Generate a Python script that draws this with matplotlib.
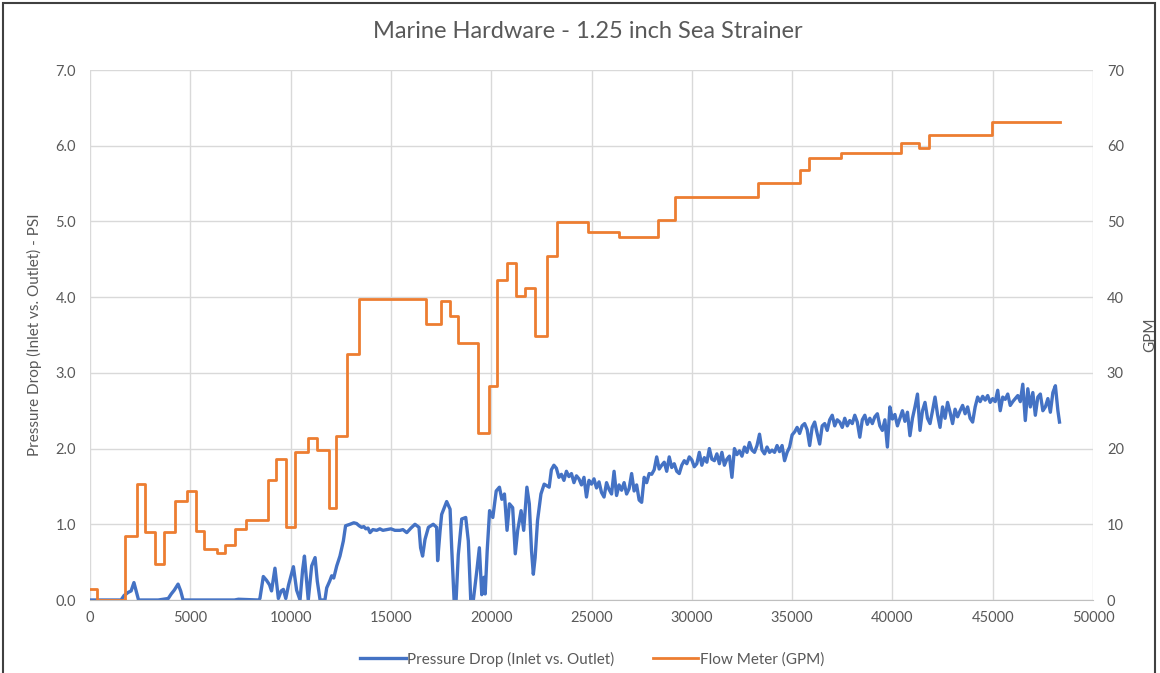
import numpy as np
import matplotlib.pyplot as plt
from matplotlib.patches import Rectangle

plt.rcParams['font.family'] = ['Lato', 'DejaVu Sans']

# flow meter steps: start of each step and its GPM value
flow_x = [0, 330, 1730, 2360, 2760, 3250, 3710, 4240, 4835, 5280, 5660, 6320,
          6720, 7210, 7755, 8880, 9290, 9780, 10240, 10850, 11320, 11900, 12250,
          12800, 13420, 16740, 17500, 17930, 18340, 19350, 19900, 20310, 20800,
          21260, 21680, 22180, 22800, 23290, 24840, 26380, 28330, 29160, 33280,
          35390, 35860, 37430, 40410, 41340, 41810, 44960, 48350]
flow_gpm = [1.5, 0, 8.4, 15.3, 9.0, 4.75, 9.0, 13.1, 14.4, 9.1, 6.8, 6.2,
            7.3, 9.4, 10.6, 15.8, 18.6, 9.6, 19.6, 21.35, 19.8, 12.1, 21.6,
            32.5, 39.75, 36.5, 39.55, 37.5, 34.0, 22.0, 28.3, 42.3, 44.5,
            40.1, 41.2, 34.9, 45.5, 49.9, 48.65, 47.9, 50.25, 53.2, 55.1,
            56.8, 58.4, 59.1, 60.3, 59.7, 61.45, 63.1, 63.1]

# pressure drop, start-up part (irregular readings)
dp_x_start = [0, 1550, 1700, 1900, 2050, 2190, 2300, 2420, 3000, 3400, 3900, 4050,
              4200, 4390, 4520, 4640, 7200, 7400, 8400, 8470, 8640, 8800, 8950, 9050,
              9220, 9390, 9530, 9640, 9760, 9900, 10000, 10140, 10300, 10470, 10600,
              10690, 10790, 10880, 11050, 11220, 11330, 11470, 11710, 11800, 11950,
              12050, 12150, 12300, 12460, 12630, 12740, 12960, 13150, 13290, 13420,
              13540, 13650, 13750, 13860, 13960, 14100, 14290, 14450, 14600, 14790,
              15000, 15200, 15450, 15600, 15790, 16000, 16200, 16400, 16480, 16580,
              16700, 16870, 17110, 17280, 17330, 17450, 17530, 17780, 17950, 18030,
              18150, 18250, 18360, 18530, 18730, 18860, 18980, 19110, 19280, 19410,
              19530, 19640, 19700, 19800, 19920, 20080, 20250, 20410, 20530, 20660,
              20790, 20910, 21070, 21200, 21320, 21490, 21620, 21780, 21900, 22010,
              22100, 22190, 22310, 22480, 22640, 22890]
dp_psi_start = [0, 0, 0.06, 0.10, 0.12, 0.23, 0.12, 0.0, 0.0, 0.0, 0.02, 0.08,
                0.13, 0.21, 0.12, 0.0, 0.0, 0.01, 0.0, 0.02, 0.31, 0.26, 0.20, 0.12,
                0.42, 0.02, 0.12, 0.14, 0.02, 0.20, 0.30, 0.44, 0.13, 0.0, 0.40,
                0.58, 0.28, 0.0, 0.45, 0.56, 0.25, 0.0, 0.0, 0.16, 0.25,
                0.32, 0.29, 0.45, 0.58, 0.78, 0.98, 1.0, 1.02, 1.01, 0.98,
                0.96, 0.97, 0.94, 0.95, 0.89, 0.93, 0.92, 0.94, 0.92, 0.93,
                0.94, 0.92, 0.92, 0.93, 0.89, 0.95, 1.0, 0.96, 0.69, 0.58,
                0.80, 0.96, 1.0, 0.96, 0.52, 0.91, 1.13, 1.30, 1.20, 0.69,
                0.0, 0.0, 0.60, 1.07, 1.09, 0.78, 0.0, 0.0, 0.38, 0.69,
                0.07, 0.30, 0.08, 0.65, 1.18, 1.09, 1.44, 1.49, 1.33, 1.40,
                0.92, 1.27, 1.22, 0.61, 0.92, 1.18, 0.92, 1.49, 1.27, 0.65,
                0.34, 0.56, 1.05, 1.40, 1.53, 1.49]

# pressure drop, steady part: one reading every 125 samples from 23000
dp_x_steady = list(range(23000, 48251, 125)) + [48330]
dp_psi_steady = [
    1.72, 1.78, 1.74, 1.62, 1.66, 1.58, 1.70, 1.63,
    1.67, 1.55, 1.64, 1.60, 1.52, 1.62, 1.36, 1.58,
    1.53, 1.60, 1.48, 1.56, 1.42, 1.36, 1.55, 1.46,
    1.40, 1.70, 1.38, 1.52, 1.45, 1.55, 1.40, 1.47,
    1.67, 1.44, 1.52, 1.32, 1.29, 1.62, 1.55, 1.67,
    1.66, 1.72, 1.89, 1.73, 1.78, 1.82, 1.70, 1.89,
    1.75, 1.80, 1.70, 1.67, 1.78, 1.84, 1.80, 1.89,
    1.85, 1.76, 1.80, 1.95, 1.78, 1.88, 1.82, 2.00,
    1.86, 1.84, 1.93, 1.80, 1.95, 1.78, 1.86, 1.90,
    1.62, 2.00, 1.92, 1.97, 1.90, 2.02, 1.95, 2.08,
    1.98, 1.95, 2.04, 2.19, 1.98, 1.93, 2.02, 1.95,
    1.98, 1.95, 2.04, 1.96, 2.04, 1.84, 1.95, 2.02,
    2.18, 2.22, 2.28, 2.20, 2.30, 2.33, 2.25, 2.04,
    2.28, 2.35, 2.20, 2.06, 2.30, 2.33, 2.24, 2.38,
    2.44, 2.30, 2.38, 2.35, 2.28, 2.40, 2.30, 2.37,
    2.33, 2.44, 2.35, 2.15, 2.38, 2.44, 2.32, 2.40,
    2.33, 2.42, 2.46, 2.30, 2.24, 2.38, 2.02, 2.55,
    2.39, 2.45, 2.30, 2.40, 2.50, 2.36, 2.48, 2.17,
    2.40, 2.55, 2.72, 2.24, 2.50, 2.61, 2.40, 2.33,
    2.50, 2.68, 2.45, 2.28, 2.55, 2.40, 2.61, 2.48,
    2.33, 2.52, 2.42, 2.50, 2.57, 2.46, 2.55, 2.40,
    2.35, 2.55, 2.68, 2.62, 2.69, 2.64, 2.70, 2.61,
    2.66, 2.62, 2.77, 2.50, 2.68, 2.65, 2.72, 2.57,
    2.62, 2.66, 2.70, 2.62, 2.85, 2.37, 2.79, 2.55,
    2.74, 2.44, 2.68, 2.72, 2.50, 2.55, 2.66, 2.48,
    2.74, 2.83, 2.50, 2.35]

dp_x = dp_x_start + dp_x_steady
dp_psi = dp_psi_start + dp_psi_steady

blue = '#4472C4'
orange = '#ED7D31'
grey_txt = '#595959'
grid_c = '#D9D9D9'

fig = plt.figure(figsize=(11.6, 6.73), dpi=100)
ax = fig.add_axes([90/1160, 73/673, 1003/1160, 530/673])
ax2 = ax.twinx()

l1, = ax.plot(dp_x, dp_psi, color=blue, lw=2.4, label='Pressure Drop (Inlet vs. Outlet)')
l2, = ax2.step(flow_x, flow_gpm, where='post', color=orange, lw=2.0, label='Flow Meter (GPM)')

ax.set_xlim(0, 50000)
ax.set_ylim(0, 7)
ax2.set_ylim(0, 70)
ax.set_xticks(np.arange(0, 50001, 5000))
ax.set_yticks(np.arange(0, 7.01, 1.0))
ax.set_yticklabels(['%.1f' % v for v in np.arange(0, 7.01, 1.0)])
ax2.set_yticks(np.arange(0, 71, 10))

ax.grid(True, color=grid_c, lw=1)
ax.set_axisbelow(True)
for a in (ax, ax2):
    for s in a.spines.values():
        s.set_visible(False)
    a.tick_params(length=0, labelsize=10.5, labelcolor=grey_txt)
ax.spines['bottom'].set_visible(True)
ax.spines['bottom'].set_color('#BFBFBF')
ax.tick_params(axis='x', pad=8)
ax.tick_params(axis='y', pad=10)
ax2.tick_params(axis='y', pad=10)

ax.set_ylabel('Pressure Drop (Inlet vs. Outlet) - PSI', color=grey_txt, fontsize=11, labelpad=10)
ax2.set_ylabel('GPM', color=grey_txt, fontsize=11, labelpad=14)

fig.text(588/1160, 1 - 31/673, 'Marine Hardware - 1.25 inch Sea Strainer',
         ha='center', va='center', fontsize=17, color=grey_txt)

fig.legend(handles=[l1, l2], loc='center', bbox_to_anchor=(592/1160, 1 - 659/673),
           ncol=2, frameon=False, fontsize=11, handlelength=3.0, handletextpad=0.1,
           columnspacing=2.5, labelcolor=grey_txt)

fig.patches.append(Rectangle((3/1160, -0.02), 1152/1160, (670/673) + 0.02,
                             transform=fig.transFigure, fill=False,
                             edgecolor='#404040', lw=1.5))

fig.savefig('out.png', dpi=100)
